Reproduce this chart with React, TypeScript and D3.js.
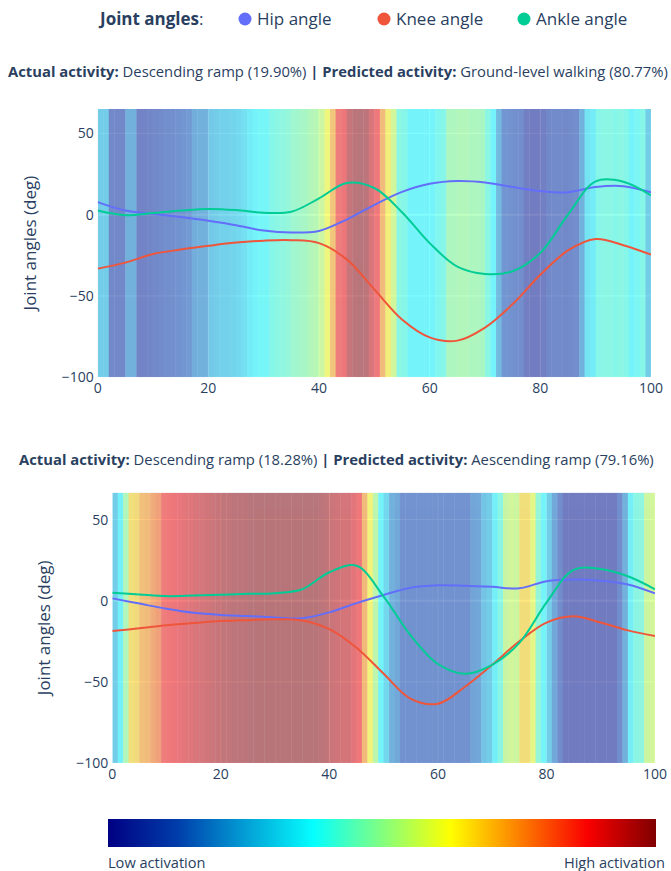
import React from 'react';
import * as d3 from 'd3';

// x positions (% of gait cycle) where curve values were read
const cycle = [0, 5, 10, 15, 20, 25, 30, 35, 40, 45, 50, 55, 60, 65, 70, 75, 80, 85, 90, 95, 100];

// top sample
const hip1 = [7.7, 2.5, 0.5, -1.5, -3.8, -6.5, -9.8, -11, -10, -3, 6, 14, 19, 20.7, 19.8, 17, 14.5, 13.8, 17, 17.5, 13.7];
const knee1 = [-33.2, -29.5, -24.2, -21.5, -19.2, -17.2, -16, -15.7, -17.5, -27.5, -46, -64.5, -75.5, -77.5, -69.5, -55, -37, -22, -15, -18.8, -24.6];
const ankle1 = [2.6, -0.3, 1, 2.5, 3.5, 2.8, 1.2, 1.8, 10, 19.5, 16.4, 1.5, -17.5, -32, -36.5, -34.8, -23.5, 0, 20.5, 20.3, 11.9];

// bottom sample
const hip2 = [1.4, -1.8, -5, -7.5, -8.8, -9.5, -10.3, -10.8, -7.2, -1.5, 3.5, 8, 9.5, 9.2, 8.5, 7.6, 12, 13, 12.3, 10, 4.5];
const knee2 = [-18.7, -17, -15.2, -13.8, -12.6, -12, -11.5, -12.2, -17.5, -29, -45, -60.5, -63.5, -53, -39.5, -25, -13.5, -9.6, -13.5, -18.3, -21.8];
const ankle2 = [4.9, 3.8, 2.8, 3.2, 3.7, 4.2, 4.6, 7, 17.5, 21.5, 2.5, -21.5, -39, -45, -39.5, -26, -1.2, 19, 19.5, 15, 7];

// activation per 1% column (0..99)
const act1 = [
  0.27, 0.27, 0.08, 0.08, 0.08, 0.2, 0.2, 0.06, 0.06, 0.07,
  0.08, 0.09, 0.1, 0.11, 0.12, 0.13, 0.14, 0.19, 0.2, 0.2,
  0.26, 0.27, 0.28, 0.28, 0.29, 0.3, 0.32, 0.35, 0.37, 0.38,
  0.38, 0.41, 0.42, 0.43, 0.44, 0.46, 0.47, 0.48, 0.5, 0.51,
  0.55, 0.62, 0.72, 0.86, 0.88, 0.96, 0.98, 0.99, 0.98, 0.92,
  0.87, 0.74, 0.64, 0.56, 0.42, 0.41, 0.37, 0.37, 0.37, 0.37,
  0.37, 0.4, 0.41, 0.49, 0.49, 0.5, 0.5, 0.49, 0.49, 0.48,
  0.42, 0.37, 0.22, 0.13, 0.12, 0.11, 0.1, 0.04, 0.03, 0.03,
  0.04, 0.08, 0.09, 0.09, 0.08, 0.09, 0.1, 0.2, 0.33, 0.35,
  0.41, 0.42, 0.42, 0.41, 0.42, 0.41, 0.37, 0.39, 0.41, 0.27,
];
const act2 = [
  0.27, 0.36, 0.5, 0.67, 0.68, 0.73, 0.74, 0.77, 0.79, 0.86,
  0.87, 0.88, 0.89, 0.9, 0.91, 0.92, 0.93, 0.94, 0.95, 0.96,
  0.97, 0.97, 0.98, 0.98, 0.98, 0.99, 0.99, 0.99, 0.99, 0.99,
  0.99, 0.99, 0.99, 0.99, 0.99, 0.99, 0.99, 0.99, 0.98, 0.97,
  0.95, 0.94, 0.93, 0.93, 0.9, 0.87, 0.74, 0.63, 0.52, 0.37,
  0.3, 0.2, 0.18, 0.12, 0.12, 0.12, 0.12, 0.12, 0.12, 0.12,
  0.12, 0.12, 0.12, 0.12, 0.12, 0.12, 0.17, 0.18, 0.25, 0.27,
  0.36, 0.42, 0.54, 0.56, 0.55, 0.67, 0.67, 0.6, 0.44, 0.37,
  0.27, 0.18, 0.1, 0.03, 0.03, 0.03, 0.03, 0.03, 0.03, 0.03,
  0.03, 0.03, 0.03, 0.1, 0.2, 0.36, 0.42, 0.43, 0.55, 0.56,
];

const seriesNames = ['Hip angle', 'Knee angle', 'Ankle angle'];
const seriesColors = ['#636efa', '#EF553B', '#00cc96'];
const xTicks = [0, 20, 40, 60, 80, 100];
const yTicks = [50, 0, -50, -100];

// plotly "Jet"
const jetStops = [0, 0.125, 0.375, 0.625, 0.875, 1];
const jetColors = ['rgb(0,0,131)', 'rgb(0,60,170)', 'rgb(5,255,255)', 'rgb(255,255,0)', 'rgb(250,0,0)', 'rgb(128,0,0)'];
const jet = d3.scaleLinear<string>().domain(jetStops).range(jetColors).interpolate(d3.interpolateRgb);

const FONT = '"Open Sans", verdana, arial, sans-serif';
const INK = '#2a3f5f';
const fmt = (v: number) => (v < 0 ? '\u2212' + Math.abs(v) : String(v));

type PanelProps = {
  box: { left: number; right: number; top: number; bottom: number };
  yMax: number;
  act: number[];
  lines: number[][];
  title: { x: number; y: number; actual: string; predicted: string };
  yTitleX: number;
  id: string;
};

const Panel = ({ box, yMax, act, lines, title, yTitleX, id }: PanelProps) => {
  const x = d3.scaleLinear().domain([0, 100]).range([box.left, box.right]);
  const y = d3.scaleLinear().domain([-100, yMax]).range([box.bottom, box.top]);
  const line = d3.line<number>()
    .x((_, i) => x(cycle[i]))
    .y(d => y(d))
    .curve(d3.curveCatmullRom.alpha(0.5));

  return (
    <g>
      <text x={title.x} y={title.y} fontFamily={FONT} fontSize={14.8} fill={INK}>
        <tspan fontWeight="bold">Actual activity:</tspan>
        <tspan> {title.actual} </tspan>
        <tspan fontWeight="bold">| Predicted activity:</tspan>
        <tspan> {title.predicted}</tspan>
      </text>

      <clipPath id={id}>
        <rect x={box.left} y={box.top} width={box.right - box.left} height={box.bottom - box.top} />
      </clipPath>

      <rect x={box.left} y={box.top} width={box.right - box.left} height={box.bottom - box.top} fill="#E5ECF6" />

      {/* grid */}
      {xTicks.map(t => (
        <line key={'gx' + t} x1={x(t)} x2={x(t)} y1={box.top} y2={box.bottom} stroke="#fff" strokeWidth={1} />
      ))}
      {yTicks.map(t => (
        <line key={'gy' + t} x1={box.left} x2={box.right} y1={y(t)} y2={y(t)} stroke="#fff" strokeWidth={t === 0 ? 2 : 1} />
      ))}

      {/* activation heatmap */}
      <g opacity={0.5} clipPath={`url(#${id})`}>
        {act.map((a, i) => (
          <rect key={i} x={x(i)} y={box.top} width={x(i + 1) - x(i) + 0.4} height={box.bottom - box.top} fill={jet(a)} />
        ))}
      </g>

      {/* joint angle curves */}
      <g clipPath={`url(#${id})`}>
        {lines.map((vals, k) => (
          <path key={k} d={line(vals) || ''} fill="none" stroke={seriesColors[k]} strokeWidth={2} />
        ))}
      </g>

      {/* tick labels */}
      {xTicks.map(t => (
        <text key={'tx' + t} x={x(t)} y={box.bottom + 16} textAnchor="middle" fontFamily={FONT} fontSize={14} fill={INK}>
          {t}
        </text>
      ))}
      {yTicks.map(t => (
        <text key={'ty' + t} x={box.left - 4} y={y(t)} dy="0.36em" textAnchor="end" fontFamily={FONT} fontSize={14} fill={INK}>
          {fmt(t)}
        </text>
      ))}
      <text
        transform={`translate(${yTitleX},${(box.top + box.bottom) / 2}) rotate(-90)`}
        textAnchor="middle"
        dy="0.36em"
        fontFamily={FONT}
        fontSize={17}
        fill={INK}
      >
        Joint angles (deg)
      </text>
    </g>
  );
};

const App = () => {
  const legendX = [245, 384, 524];
  const bar = { left: 108, right: 656, top: 819, bottom: 847 };

  return (
    <svg width={671} height={871} style={{ position: 'absolute', left: 0, top: 0, background: '#fff' }}>
      <defs>
        <linearGradient id="jetbar" x1="0" x2="1" y1="0" y2="0">
          {jetStops.map((s, i) => (
            <stop key={i} offset={`${s * 100}%`} stopColor={jetColors[i]} />
          ))}
        </linearGradient>
      </defs>

      {/* legend */}
      <text x={100} y={25} fontFamily={FONT} fontSize={17} fill={INK}>
        <tspan fontWeight="bold">Joint angles</tspan>
        <tspan>:</tspan>
      </text>
      {seriesNames.map((n, i) => (
        <g key={n}>
          <circle cx={legendX[i]} cy={19} r={6.5} fill={seriesColors[i]} />
          <text x={legendX[i] + 12} y={25} fontFamily={FONT} fontSize={17} fill={INK}>{n}</text>
        </g>
      ))}

      <Panel
        id="clip1"
        box={{ left: 97.7, right: 651, top: 109, bottom: 377.2 }}
        yMax={65}
        act={act1}
        lines={[hip1, knee1, ankle1]}
        title={{ x: 8, y: 77, actual: 'Descending ramp (19.90%)', predicted: 'Ground-level walking (80.77%)' }}
        yTitleX={30}
      />
      <Panel
        id="clip2"
        box={{ left: 112.3, right: 655, top: 492.7, bottom: 763 }}
        yMax={66.5}
        act={act2}
        lines={[hip2, knee2, ankle2]}
        title={{ x: 19, y: 465, actual: 'Descending ramp (18.28%)', predicted: 'Aescending ramp (79.16%)' }}
        yTitleX={44}
      />

      {/* activation colour bar */}
      <rect x={bar.left} y={bar.top} width={bar.right - bar.left} height={bar.bottom - bar.top} fill="url(#jetbar)" />
      <text x={bar.left} y={868} fontFamily={FONT} fontSize={14.6} fill={INK}>Low activation</text>
      <text x={665} y={868} textAnchor="end" fontFamily={FONT} fontSize={14.6} fill={INK}>High activation</text>
    </svg>
  );
};

export default App;
